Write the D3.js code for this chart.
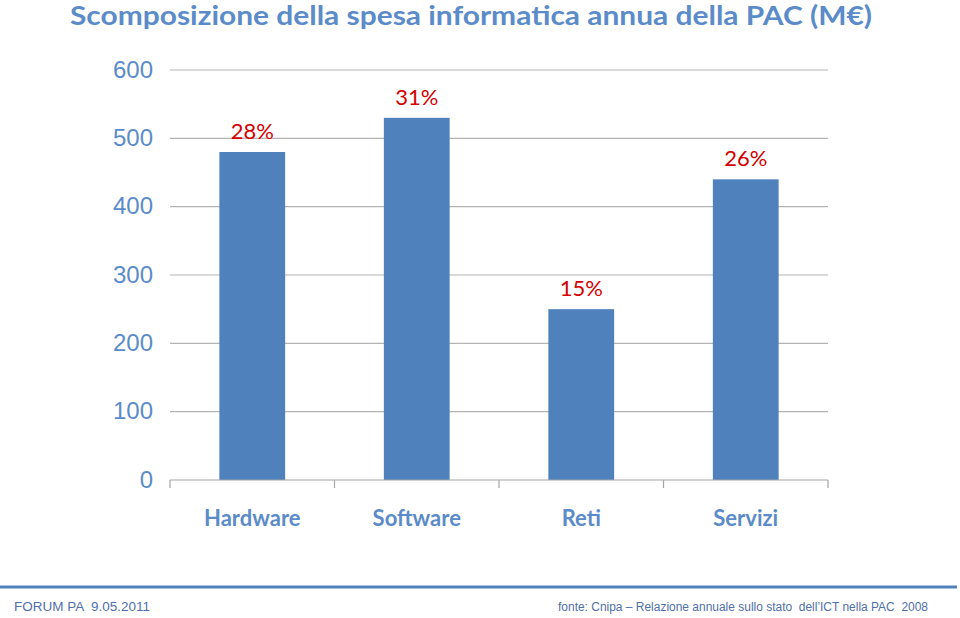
<!DOCTYPE html>
<html><head><meta charset="utf-8">
<script src="https://cdn.jsdelivr.net/npm/d3@7"></script>
<style>body{margin:0;background:#fff}</style>
</head><body>
<svg id="c" width="960" height="618"></svg>
<script>
const categories = ["Hardware", "Software", "Reti", "Servizi"];
const values = [480, 530, 250, 440];
const shares = ["28%", "31%", "15%", "26%"];
const yTicks = [0, 100, 200, 300, 400, 500, 600];
const titleText = "Scomposizione della spesa informatica annua della PAC (M€)";
const footerLeft = "FORUM PA  9.05.2011";
const footerRight = "fonte: Cnipa – Relazione annuale sullo stato  dell’ICT nella PAC  2008";

const svg = d3.select("#c");
const blue = "#4F81BD";
const x = d3.scaleBand().domain(categories).range([170, 828]).paddingInner(0.6).paddingOuter(0.3);
const y = d3.scaleLinear().domain([0, 600]).range([480, 70]);

// title
svg.append("text").attr("x", 70).attr("y", 25)
  .attr("font-family", "Lato, 'Open Sans', sans-serif").attr("font-weight", "bold")
  .attr("font-size", 26).attr("fill", "#5B8BC9")
  .attr("textLength", 802).attr("lengthAdjust", "spacingAndGlyphs")
  .text(titleText);

// gridlines
svg.append("g").selectAll("line").data(yTicks.filter(d => d > 0)).join("line")
  .attr("x1", 170).attr("x2", 828).attr("y1", d => y(d)).attr("y2", d => y(d))
  .attr("stroke", "#B3B3B3").attr("stroke-width", 1.2);

// y axis labels
const yAxis = d3.axisLeft(y).tickValues(yTicks).tickSize(0).tickPadding(17);
const gy = svg.append("g").attr("transform", "translate(170,0)").call(yAxis);
gy.select(".domain").remove();
gy.selectAll("text").attr("font-family", "Arial, 'Liberation Sans', sans-serif")
  .attr("font-size", 24).attr("fill", "#5B8BC9").attr("dy", "0.3em");

// bars
svg.append("g").selectAll("rect").data(values).join("rect")
  .attr("x", (d, i) => x(categories[i])).attr("width", x.bandwidth())
  .attr("y", d => y(d)).attr("height", d => y(0) - y(d))
  .attr("fill", blue);

// percentage labels
svg.append("g").selectAll("text").data(values).join("text")
  .attr("x", (d, i) => x(categories[i]) + x.bandwidth() / 2)
  .attr("y", d => y(d) - 13)
  .attr("text-anchor", "middle")
  .attr("font-family", "Lato, 'Open Sans', sans-serif").attr("font-size", 22)
  .attr("fill", "#D40000")
  .text((d, i) => shares[i]);

// x axis
const step = x.step();
const edges = d3.range(categories.length + 1).map(i => 170 + i * step);
svg.append("line").attr("x1", 170).attr("x2", 828).attr("y1", 480).attr("y2", 480)
  .attr("stroke", "#A6A6A6").attr("stroke-width", 1.2);
svg.append("g").selectAll("line").data(edges).join("line")
  .attr("x1", d => d).attr("x2", d => d).attr("y1", 480).attr("y2", 488)
  .attr("stroke", "#A6A6A6").attr("stroke-width", 1.2);
const xAxis = d3.axisBottom(x).tickSize(0).tickPadding(0);
const gx = svg.append("g").attr("transform", "translate(0,480)").call(xAxis);
gx.select(".domain").remove();
gx.selectAll("text").attr("dy", 0).attr("y", 46)
  .attr("font-family", "Lato, 'Open Sans', sans-serif").attr("font-weight", "bold")
  .attr("font-size", 22).attr("fill", "#5B8BC9");

// footer
svg.append("line").attr("x1", 0).attr("x2", 957).attr("y1", 587).attr("y2", 587)
  .attr("stroke", "#4F81BD").attr("stroke-width", 3);
svg.append("text").attr("x", 14).attr("y", 611)
  .style("white-space", "pre")
  .attr("font-family", "Arial, 'Liberation Sans', sans-serif").attr("font-size", 12.5)
  .attr("textLength", 136).attr("lengthAdjust", "spacingAndGlyphs")
  .attr("fill", "#4F6FA8").text(footerLeft);
svg.append("text").attr("x", 558).attr("y", 611)
  .style("white-space", "pre")
  .attr("font-family", "Arial, 'Liberation Sans', sans-serif").attr("font-size", 12.5)
  .attr("textLength", 370).attr("lengthAdjust", "spacingAndGlyphs")
  .attr("fill", "#4F6FA8").text(footerRight);
</script>
</body></html>
